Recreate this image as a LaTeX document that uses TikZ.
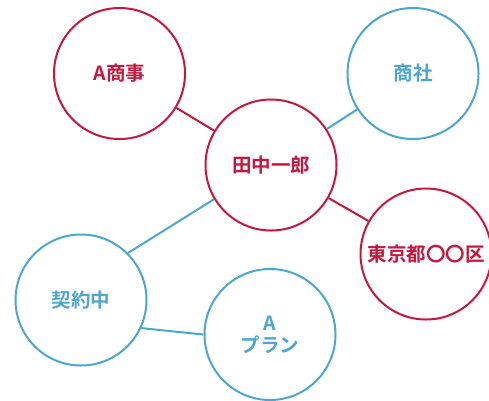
\documentclass[tikz,border=0pt]{standalone}
\usepackage{fontspec}
\newfontfamily\jp{Noto Sans CJK JP}[BoldFont={Noto Sans CJK JP Bold}]
\definecolor{cred}{HTML}{C8173D}
\definecolor{cblue}{HTML}{4DA6D1}
\begin{document}
\begin{tikzpicture}[x=1pt,y=-1pt,
  bub/.style={circle,minimum size=131pt,inner sep=0pt,line width=2pt,fill=white,font=\jp\bfseries\fontsize{19.5}{22}\selectfont,align=center},
  redbub/.style={bub,draw=cred,text=cred},
  bluebub/.style={bub,draw=cblue,text=cblue},
  redline/.style={draw=cred,line width=2pt},
  blueline/.style={draw=cblue,line width=2pt}]
\useasboundingbox (0,0) rectangle (489,400);
\node[redbub] (asho) at (119.5,73.5) {A商事};
\node[bluebub] (shosha) at (413,73.5) {商社};
\node[redbub] (tanaka) at (271,165) {田中一郎};
\node[redbub] (tokyo) at (426,254) {東京都〇〇区};
\node[bluebub] (kei) at (81,300) {契約中};
\node[bluebub] (plan) at (270,334.5) {A\\プラン};
\draw[redline] (asho) -- (tanaka);
\draw[blueline] (shosha) -- (tanaka);
\draw[redline] (tanaka) -- (tokyo);
\draw[blueline] (kei.45) -- (tanaka.211);
\draw[blueline] (kei.-25) -- (plan.180);
\end{tikzpicture}
\end{document}
